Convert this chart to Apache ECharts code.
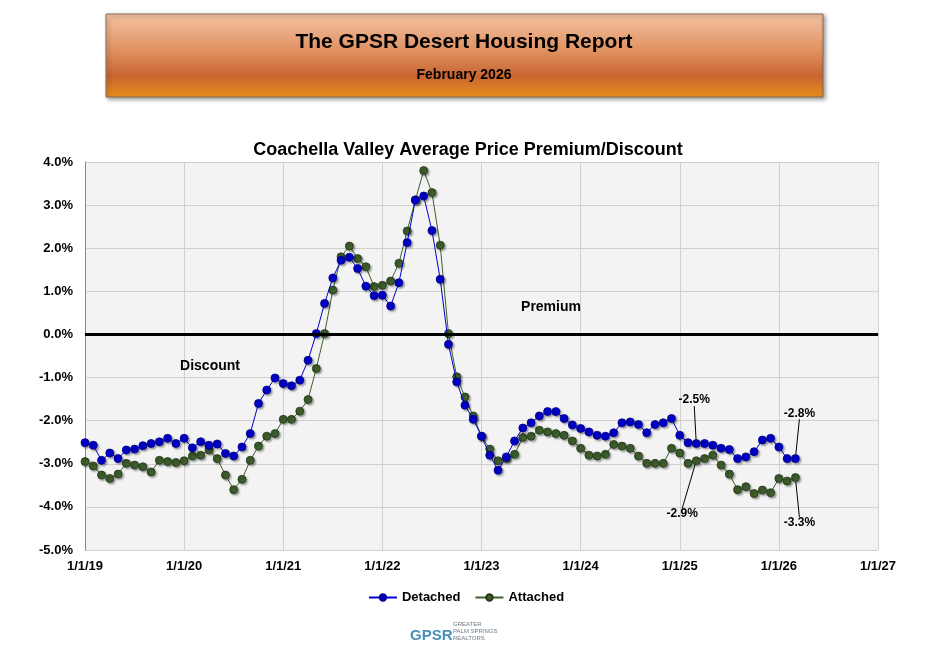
<!DOCTYPE html>
<html><head><meta charset="utf-8">
<script src="https://cdn.jsdelivr.net/npm/echarts@6/dist/echarts.min.js"></script>
<style>html,body{margin:0;padding:0;background:#fff}#c{width:932px;height:661px}</style>
</head><body><div id="c"></div>
<script>
// Monthly, Jan 2019 .. Mar 2026 (month index 0..86)
const detached = [-2.51,-2.57,-2.92,-2.75,-2.88,-2.68,-2.66,-2.58,-2.53,-2.49,-2.41,-2.53,
 -2.41,-2.63,-2.49,-2.57,-2.54,-2.76,-2.82,-2.61,-2.30,-1.60,-1.29,-1.01,
 -1.14,-1.19,-1.06,-0.60,0.02,0.72,1.31,1.72,1.79,1.53,1.12,0.90,
 0.91,0.66,1.20,2.13,3.12,3.21,2.41,1.28,-0.23,-1.10,-1.64,-1.97,
 -2.36,-2.80,-3.15,-2.84,-2.47,-2.17,-2.05,-1.89,-1.79,-1.79,-1.95,-2.10,
 -2.18,-2.26,-2.34,-2.36,-2.28,-2.05,-2.03,-2.09,-2.28,-2.09,-2.05,-1.95,
 -2.34,-2.51,-2.53,-2.53,-2.57,-2.64,-2.67,-2.88,-2.84,-2.72,-2.45,-2.41,
 -2.61,-2.88,-2.88];
const attached = [-2.95,-3.05,-3.26,-3.34,-3.24,-2.99,-3.03,-3.07,-3.19,-2.92,-2.95,-2.97,
 -2.93,-2.82,-2.80,-2.68,-2.88,-3.26,-3.60,-3.36,-2.92,-2.59,-2.36,-2.30,
 -1.97,-1.97,-1.78,-1.51,-0.79,0.02,1.03,1.80,2.05,1.76,1.57,1.11,
 1.14,1.24,1.65,2.40,3.12,3.80,3.29,2.07,0.02,-0.98,-1.45,-1.89,
 -2.36,-2.66,-2.93,-2.88,-2.78,-2.39,-2.36,-2.22,-2.26,-2.30,-2.34,-2.47,
 -2.64,-2.80,-2.82,-2.78,-2.55,-2.59,-2.64,-2.82,-2.99,-2.99,-2.99,-2.64,
 -2.75,-2.99,-2.93,-2.88,-2.80,-3.03,-3.24,-3.60,-3.53,-3.69,-3.61,-3.67,
 -3.34,-3.40,-3.32];
const detachedLabels = {74:'-2.5%', 86:'-2.8%'};
const attachedLabels = {74:'-2.9%', 86:'-3.3%'};
const xTickLabels = ['1/1/19','1/1/20','1/1/21','1/1/22','1/1/23','1/1/24','1/1/25','1/1/26','1/1/27'];

const F = 'Liberation Sans, Arial, sans-serif';
function build(vals, labels){
  return vals.map((v,i)=>{
    const o={value:[i,v]};
    if(labels[i]) o.label={show:true,formatter:labels[i]};
    return o;
  });
}
const layoutFn = (dyMap, dxMap) => p => (dyMap[p.dataIndex]!==undefined ? {dx:dxMap[p.dataIndex],dy:dyMap[p.dataIndex]} : {});
const chart = echarts.init(document.getElementById('c'));
chart.setOption({
  animation:false,
  backgroundColor:'#fff',
  title:{text:'Coachella Valley Average Price Premium/Discount',left:463,top:136,textAlign:'center',
    textStyle:{fontFamily:F,fontSize:18,fontWeight:'bold',color:'#000'}},
  grid:{left:85,right:54,top:162,bottom:111,show:true,backgroundColor:'#f3f3f3',borderWidth:0},
  legend:{bottom:52,left:'center',itemGap:14,itemWidth:28,itemHeight:8,
    textStyle:{fontFamily:F,fontSize:13,fontWeight:'bold',color:'#000'},
    data:['Detached','Attached']},
  xAxis:{type:'value',min:0,max:96,interval:12,
    axisLine:{lineStyle:{color:'#888'}},axisTick:{show:false},
    splitLine:{show:true,lineStyle:{color:'#d0d0d0'}},
    axisLabel:{fontFamily:F,fontSize:13,fontWeight:'bold',color:'#000',margin:10,
      formatter:v=>xTickLabels[v/12]}},
  yAxis:{type:'value',min:-5,max:4,interval:1,
    axisLine:{show:true,lineStyle:{color:'#888'}},axisTick:{show:false},
    splitLine:{show:true,lineStyle:{color:'#d0d0d0'}},
    axisLabel:{fontFamily:F,fontSize:13,fontWeight:'bold',color:'#000',margin:12,
      formatter:v=>v.toFixed(1)+'%'}},
  series:[
    {name:'Detached',type:'line',data:build(detached,detachedLabels),symbol:'circle',symbolSize:8,
      itemStyle:{color:'#0000cc',borderColor:'#00008a',borderWidth:0.8,shadowColor:'rgba(0,0,0,0.35)',shadowOffsetX:1.5,shadowOffsetY:1.5,shadowBlur:2},
      lineStyle:{color:'#0000cc',width:1},
      label:{fontFamily:F,fontSize:12,fontWeight:'bold',color:'#000',position:'top'},
      labelLayout:layoutFn({74:-28,86:-30},{74:-2,86:4}),
      labelLine:{show:true,lineStyle:{color:'#000',width:1}},
      markLine:{silent:true,symbol:'none',label:{show:false},lineStyle:{color:'#000',width:3,type:'solid'},data:[{yAxis:0}]},
      z:3},
    {name:'Attached',type:'line',data:build(attached,attachedLabels),symbol:'circle',symbolSize:8,
      itemStyle:{color:'#3e5e2c',borderColor:'#223818',borderWidth:0.8,shadowColor:'rgba(0,0,0,0.35)',shadowOffsetX:1.5,shadowOffsetY:1.5,shadowBlur:2},
      lineStyle:{color:'#3e5e2c',width:1},
      label:{fontFamily:F,fontSize:12,fontWeight:'bold',color:'#000',position:'bottom'},
      labelLayout:layoutFn({74:38,86:30},{74:-14,86:4}),
      labelLine:{show:true,lineStyle:{color:'#000',width:1}},
      z:2}
  ],
  graphic:[
    {type:'rect',shape:{x:106,y:14,width:717,height:83},z:10,
      style:{fill:new echarts.graphic.LinearGradient(0,0,0,1,[{offset:0,color:'#f3c3a3'},{offset:0.45,color:'#e09060'},{offset:0.75,color:'#c86530'},{offset:1,color:'#e8901c'}]),
        stroke:'#8a6a55',lineWidth:1,shadowColor:'rgba(0,0,0,0.4)',shadowBlur:4,shadowOffsetX:2,shadowOffsetY:2}},
    {type:'text',x:464,y:42,z:11,style:{text:'The GPSR Desert Housing Report',font:'bold 21px '+F,fill:'#000',textAlign:'center',textVerticalAlign:'middle'}},
    {type:'text',x:464,y:75,z:11,style:{text:'February 2026',font:'bold 14px '+F,fill:'#000',textAlign:'center',textVerticalAlign:'middle'}},
    {type:'text',x:210,y:366,z:11,style:{text:'Discount',font:'bold 14px '+F,fill:'#000',textAlign:'center',textVerticalAlign:'middle'}},
    {type:'text',x:551,y:307,z:11,style:{text:'Premium',font:'bold 14px '+F,fill:'#000',textAlign:'center',textVerticalAlign:'middle'}},
    {type:'text',x:410,y:636,z:11,style:{text:'GPSR',font:'bold 15px '+F,fill:'#4a8fb8',textAlign:'left',textVerticalAlign:'middle'}},
    {type:'text',x:453,y:631,z:11,style:{text:'GREATER\nPALM SPRINGS\nREALTORS',font:'6px '+F,fill:'#6a7a8a',textAlign:'left',textVerticalAlign:'middle',lineHeight:7}}
  ]
});
</script></body></html>
